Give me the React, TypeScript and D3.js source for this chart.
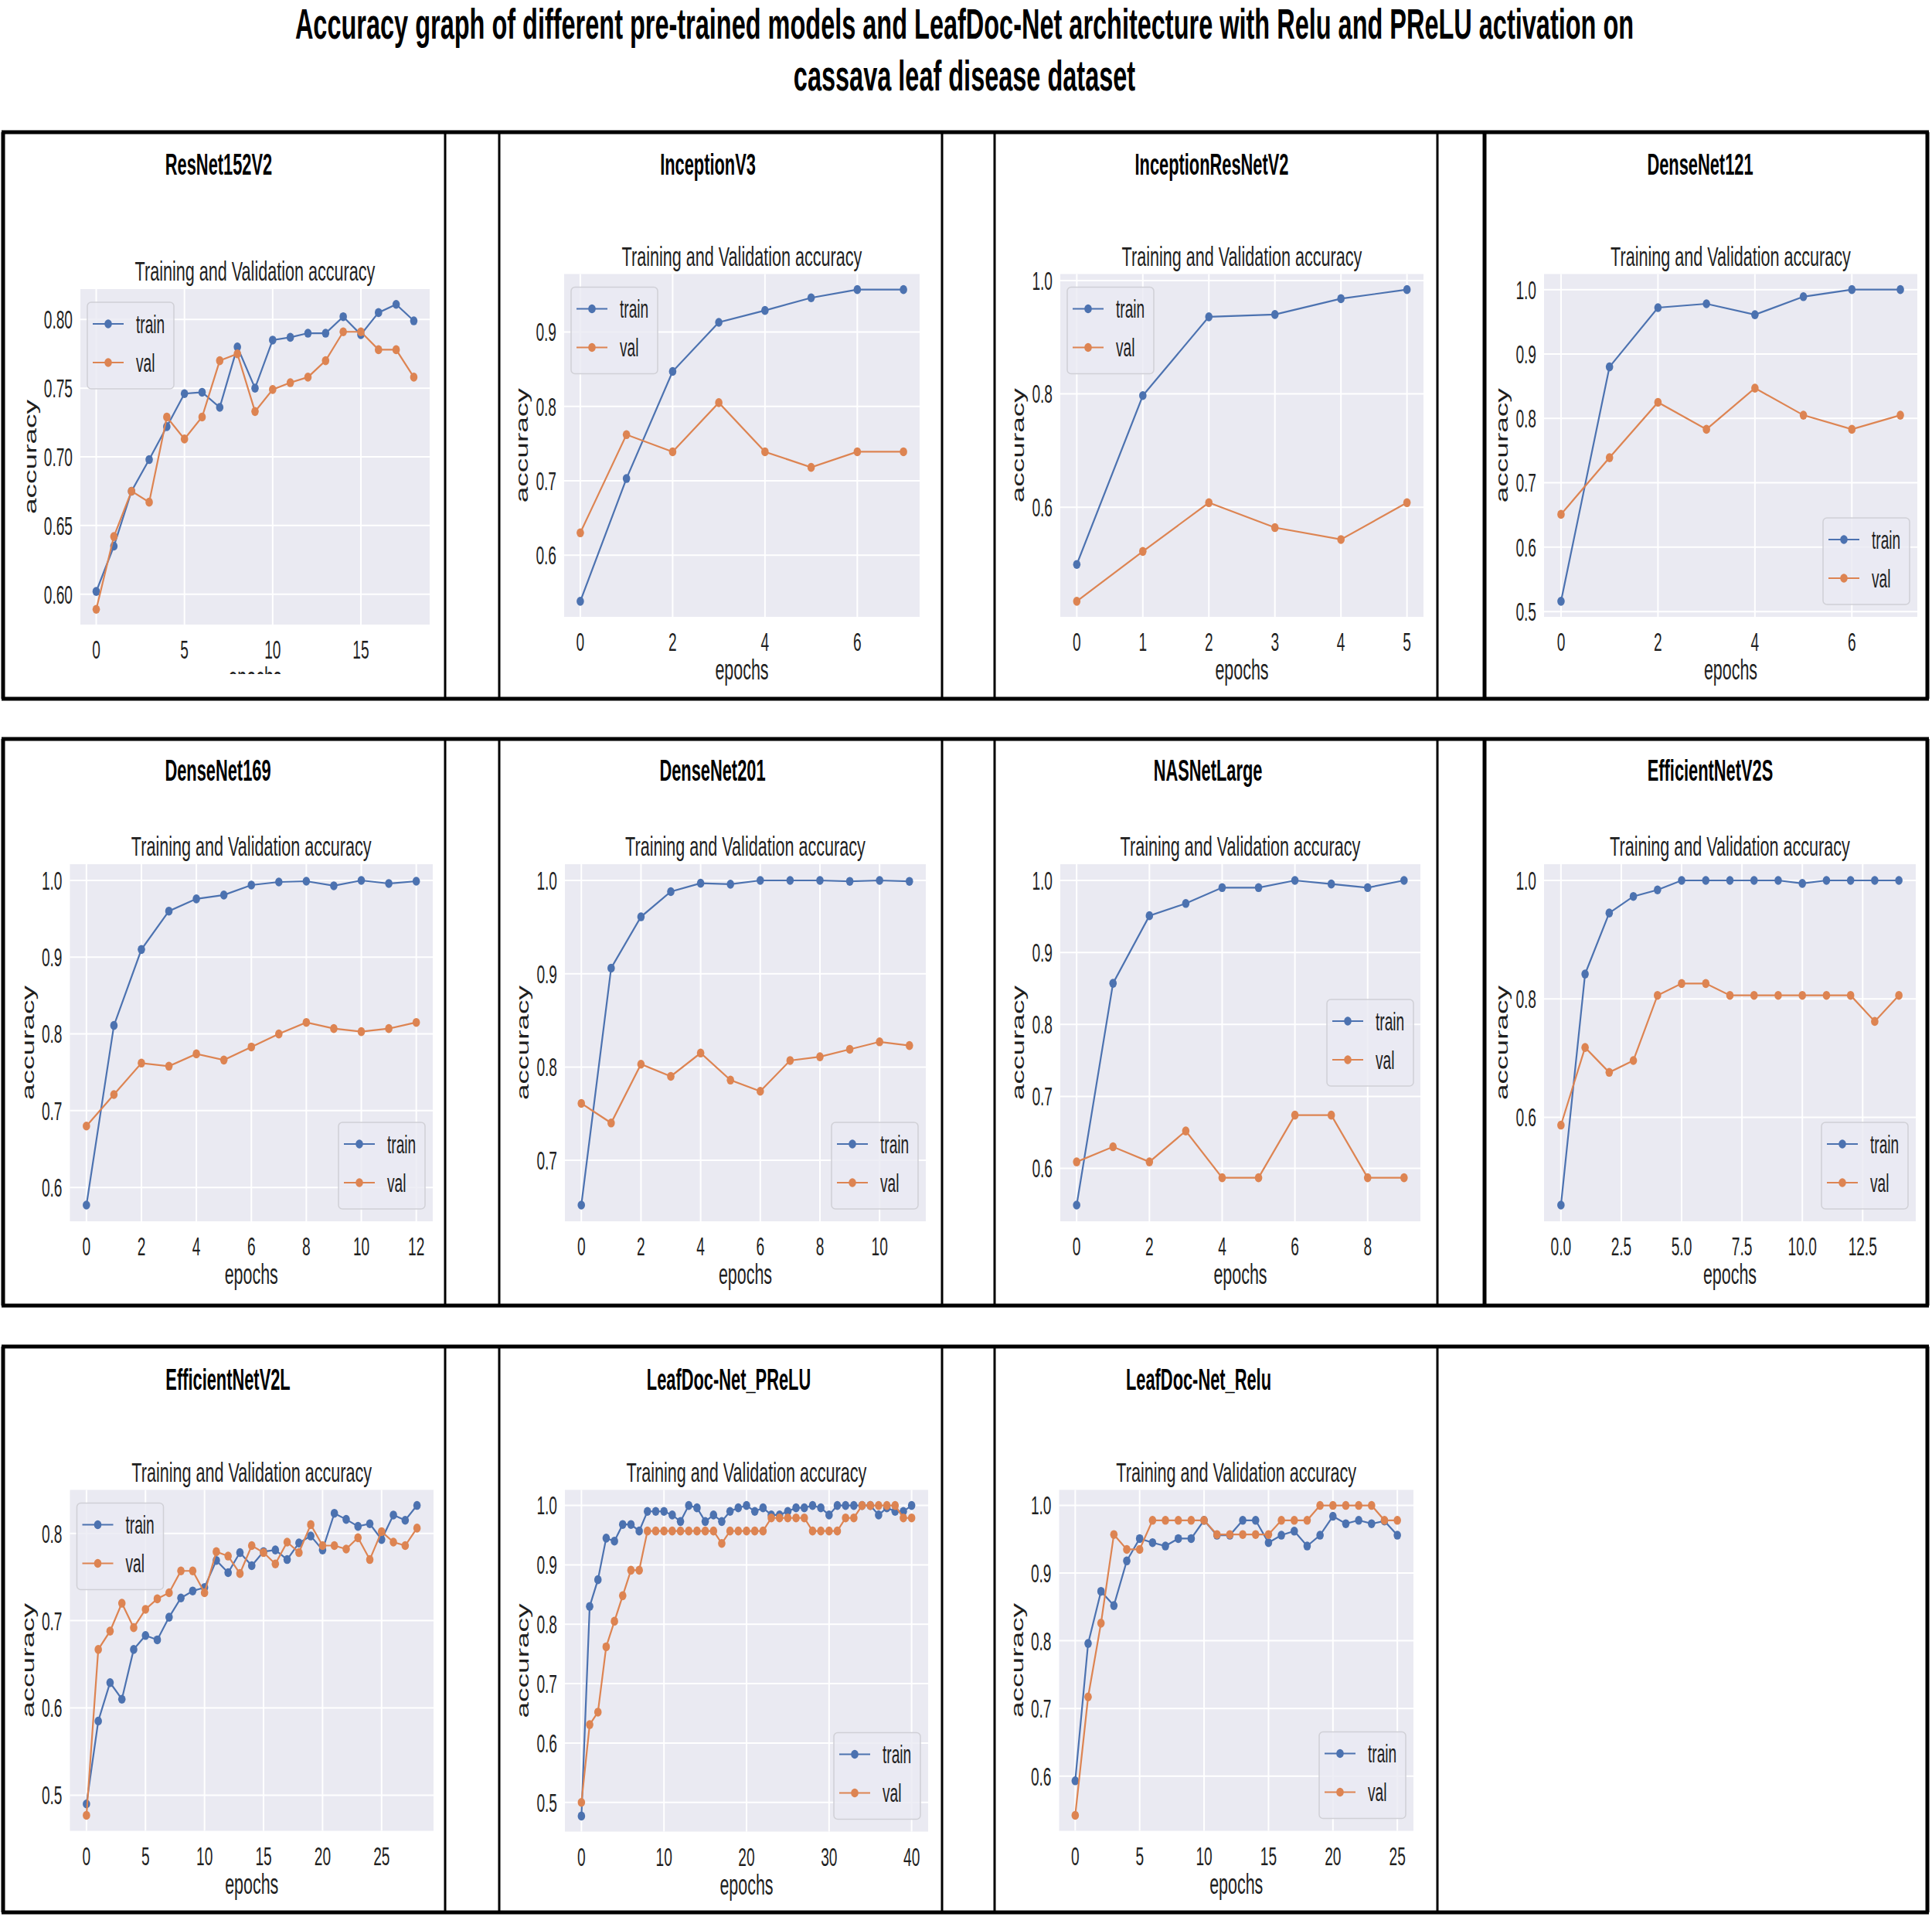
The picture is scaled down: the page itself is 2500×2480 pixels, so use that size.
import * as d3 from "d3";

const W = 2500;
const H = 2480;

const FONT = "'Liberation Sans', Arial, Helvetica, sans-serif";
const TRAIN_COLOR = "#4c72b0";
const VAL_COLOR = "#dd8452";
const PLOT_BG = "#eaeaf2";
const SQ = 0.58; // horizontal squeeze of the pasted figures
const SQ_BOLD = 0.56;

const mainTitle = [
  "Accuracy graph of different pre-trained models and LeafDoc-Net architecture with Relu and PReLU activation on",
  "cassava leaf disease dataset",
];

// ---- data ----
const resnetTrain = [0.602, 0.635, 0.675, 0.698, 0.722, 0.746, 0.747, 0.736, 0.78, 0.75, 0.785, 0.787, 0.79, 0.79, 0.802, 0.789, 0.805, 0.811, 0.799];
const resnetVal = [0.589, 0.642, 0.675, 0.667, 0.729, 0.713, 0.729, 0.77, 0.775, 0.733, 0.749, 0.754, 0.758, 0.77, 0.791, 0.791, 0.778, 0.778, 0.758];

const inceptionTrain = [0.538, 0.703, 0.847, 0.913, 0.929, 0.946, 0.957, 0.957];
const inceptionVal = [0.63, 0.762, 0.739, 0.805, 0.739, 0.718, 0.739, 0.739];

const incResTrain = [0.499, 0.797, 0.936, 0.94, 0.968, 0.984];
const incResVal = [0.434, 0.522, 0.608, 0.564, 0.543, 0.608];

const dn121Train = [0.516, 0.88, 0.972, 0.978, 0.961, 0.989, 1.0, 1.0];
const dn121Val = [0.651, 0.739, 0.825, 0.783, 0.847, 0.805, 0.783, 0.805];

const dn169Train = [0.577, 0.811, 0.91, 0.96, 0.976, 0.981, 0.994, 0.998, 0.999, 0.993, 1.0, 0.996, 0.999];
const dn169Val = [0.68, 0.721, 0.762, 0.758, 0.774, 0.766, 0.783, 0.8, 0.815, 0.807, 0.803, 0.807, 0.815];

const dn201Train = [0.652, 0.906, 0.961, 0.988, 0.997, 0.996, 1.0, 1.0, 1.0, 0.999, 1.0, 0.999];
const dn201Val = [0.761, 0.74, 0.803, 0.79, 0.815, 0.786, 0.774, 0.807, 0.811, 0.819, 0.827, 0.823];

const nasTrain = [0.549, 0.857, 0.951, 0.968, 0.99, 0.99, 1.0, 0.995, 0.99, 1.0];
const nasVal = [0.609, 0.63, 0.609, 0.652, 0.587, 0.587, 0.674, 0.674, 0.587, 0.587];

const effSTrain = [0.452, 0.842, 0.945, 0.973, 0.984, 1.0, 1.0, 1.0, 1.0, 1.0, 0.995, 1.0, 1.0, 1.0, 1.0];
const effSVal = [0.587, 0.718, 0.676, 0.696, 0.806, 0.826, 0.826, 0.806, 0.806, 0.806, 0.806, 0.806, 0.806, 0.762, 0.806];

const effLTrain = [0.49, 0.585, 0.629, 0.61, 0.667, 0.683, 0.678, 0.704, 0.726, 0.734, 0.738, 0.769, 0.755, 0.778, 0.763, 0.779, 0.781, 0.77, 0.789, 0.797, 0.781, 0.823, 0.816, 0.808, 0.811, 0.793, 0.821, 0.815, 0.832];
const effLVal = [0.477, 0.667, 0.688, 0.72, 0.692, 0.713, 0.725, 0.732, 0.757, 0.757, 0.732, 0.779, 0.774, 0.754, 0.786, 0.778, 0.765, 0.79, 0.778, 0.81, 0.786, 0.786, 0.782, 0.795, 0.77, 0.802, 0.79, 0.786, 0.806];

const preluTrain = [0.477, 0.83, 0.875, 0.945, 0.94, 0.968, 0.968, 0.957, 0.99, 0.99, 0.99, 0.984, 0.973, 1.0, 0.996, 0.973, 0.984, 0.973, 0.99, 0.996, 1.0, 0.99, 0.996, 0.984, 0.984, 0.99, 0.996, 0.996, 1.0, 0.996, 0.984, 1.0, 1.0, 1.0, 1.0, 1.0, 0.984, 0.996, 0.99, 0.99, 1.0];
const preluVal = [0.5, 0.631, 0.652, 0.762, 0.805, 0.848, 0.891, 0.891, 0.957, 0.957, 0.957, 0.957, 0.957, 0.957, 0.957, 0.957, 0.957, 0.936, 0.957, 0.957, 0.957, 0.957, 0.957, 0.979, 0.979, 0.979, 0.979, 0.979, 0.957, 0.957, 0.957, 0.957, 0.979, 0.979, 1.0, 1.0, 1.0, 1.0, 1.0, 0.979, 0.979];

const reluTrain = [0.593, 0.796, 0.873, 0.852, 0.918, 0.951, 0.945, 0.94, 0.951, 0.951, 0.978, 0.956, 0.956, 0.978, 0.978, 0.945, 0.956, 0.962, 0.94, 0.956, 0.984, 0.973, 0.978, 0.973, 0.977, 0.956];
const reluVal = [0.542, 0.717, 0.826, 0.957, 0.935, 0.935, 0.978, 0.978, 0.978, 0.978, 0.978, 0.957, 0.957, 0.957, 0.957, 0.957, 0.978, 0.978, 0.978, 1.0, 1.0, 1.0, 1.0, 1.0, 0.978, 0.978];

// ---- tick values ----
const yTicks05 = [0.6, 0.65, 0.7, 0.75, 0.8];
const yTicks01a = [0.6, 0.7, 0.8, 0.9];
const yTicks02 = [0.6, 0.8, 1.0];
const yTicks01b = [0.5, 0.6, 0.7, 0.8, 0.9, 1.0];
const yTicks01c = [0.6, 0.7, 0.8, 0.9, 1.0];
const yTicks01d = [0.7, 0.8, 0.9, 1.0];
const yTicks01e = [0.5, 0.6, 0.7, 0.8];

const xTicksBy5 = [0, 5, 10, 15];
const xTicks0to6 = [0, 2, 4, 6];
const xTicks0to5 = [0, 1, 2, 3, 4, 5];
const xTicks0to12 = [0, 2, 4, 6, 8, 10, 12];
const xTicks0to10 = [0, 2, 4, 6, 8, 10];
const xTicks0to8 = [0, 2, 4, 6, 8];
const xTicksHalf = [0, 2.5, 5, 7.5, 10, 12.5];
const xTicks0to25 = [0, 5, 10, 15, 20, 25];
const xTicks0to40 = [0, 10, 20, 30, 40];

type Legend = "ul" | "lr" | "cr";
interface Panel {
  name: string;
  train: number[];
  val: number[];
  yTicks: number[];
  xTicks: number[];
  yFmt: string;
  xFmt: string;
  title: [number, number];
  plot: [number, number, number, number]; // left, top, right, bottom
  legend: Legend;
  clipY?: number;
}

const panels: Panel[] = [
  { name: "ResNet152V2", train: resnetTrain, val: resnetVal, yTicks: yTicks05, xTicks: xTicksBy5, yFmt: ".2f", xFmt: "d", title: [283, 226], plot: [104, 374, 556, 808], legend: "ul", clipY: 872 },
  { name: "InceptionV3", train: inceptionTrain, val: inceptionVal, yTicks: yTicks01a, xTicks: xTicks0to6, yFmt: ".1f", xFmt: "d", title: [916, 226], plot: [730, 354.5, 1190, 798], legend: "ul" },
  { name: "InceptionResNetV2", train: incResTrain, val: incResVal, yTicks: yTicks02, xTicks: xTicks0to5, yFmt: ".1f", xFmt: "d", title: [1568, 226], plot: [1372, 354.5, 1842, 798], legend: "ul" },
  { name: "DenseNet121", train: dn121Train, val: dn121Val, yTicks: yTicks01b, xTicks: xTicks0to6, yFmt: ".1f", xFmt: "d", title: [2200, 226], plot: [1998, 354.5, 2481, 798], legend: "lr" },
  { name: "DenseNet169", train: dn169Train, val: dn169Val, yTicks: yTicks01c, xTicks: xTicks0to12, yFmt: ".1f", xFmt: "d", title: [282, 1010], plot: [90.5, 1118, 560, 1580], legend: "lr" },
  { name: "DenseNet201", train: dn201Train, val: dn201Val, yTicks: yTicks01d, xTicks: xTicks0to10, yFmt: ".1f", xFmt: "d", title: [922, 1010], plot: [731, 1118, 1198, 1580], legend: "lr" },
  { name: "NASNetLarge", train: nasTrain, val: nasVal, yTicks: yTicks01c, xTicks: xTicks0to8, yFmt: ".1f", xFmt: "d", title: [1563, 1010], plot: [1372, 1118, 1838, 1580], legend: "cr" },
  { name: "EfficientNetV2S", train: effSTrain, val: effSVal, yTicks: yTicks02, xTicks: xTicksHalf, yFmt: ".1f", xFmt: ".1f", title: [2213, 1010], plot: [1998, 1118, 2479, 1580], legend: "lr" },
  { name: "EfficientNetV2L", train: effLTrain, val: effLVal, yTicks: yTicks01e, xTicks: xTicks0to25, yFmt: ".1f", xFmt: "d", title: [295, 1798], plot: [90.5, 1927.5, 561, 2368.5], legend: "ul" },
  { name: "LeafDoc-Net_PReLU", train: preluTrain, val: preluVal, yTicks: yTicks01b, xTicks: xTicks0to40, yFmt: ".1f", xFmt: "d", title: [943, 1798], plot: [731, 1927.5, 1201, 2369.5], legend: "lr" },
  { name: "LeafDoc-Net_Relu", train: reluTrain, val: reluVal, yTicks: yTicks01c, xTicks: xTicks0to25, yFmt: ".1f", xFmt: "d", title: [1551, 1798], plot: [1370.5, 1927.5, 1829, 2368.5], legend: "lr" },
];

// frame of the table the figures were pasted into
const rowTops = [171, 956, 1742];
const rowBottoms = [904, 1689, 2474];
const colLines = [4, 576, 646, 1219, 1287, 1860, 1921, 2494];

const TICK_SIZE = 33;
const LABEL_SIZE = 37;
const SUB_SIZE = 36;
const LEG_W = 112;
const LEG_H = 112;

function textWidth(s: string, size: number) {
  let w = 0;
  for (const ch of s) w += ch === "." ? 0.278 : 0.556;
  return w * size * SQ;
}

function SText({ x, y, size, children, anchor = "middle", weight = "normal", sx = SQ, dy, fill = "#1f1f1f" }: any) {
  return (
    <text
      transform={`translate(${x},${y}) scale(${sx},1)`}
      fontSize={size}
      fontWeight={weight}
      textAnchor={anchor}
      fontFamily={FONT}
      fill={fill}
      dy={dy}
    >
      {children}
    </text>
  );
}

function Chart({ p, idx }: { p: Panel; idx: number }) {
  const [left, top, right, bottom] = p.plot;
  const n = p.train.length - 1;
  const x = d3.scaleLinear().domain([-0.05 * n, 1.05 * n]).range([left, right]);
  const [lo, hi] = d3.extent(p.train.concat(p.val)) as [number, number];
  const pad = (hi - lo) * 0.05;
  const y = d3.scaleLinear().domain([lo - pad, hi + pad]).range([bottom, top]);
  const line = d3
    .line<number>()
    .x((_, i) => x(i))
    .y((d) => y(d));
  const fy = d3.format(p.yFmt);
  const fx = d3.format(p.xFmt);
  const tickW = d3.max(p.yTicks, (t) => textWidth(fy(t), TICK_SIZE)) as number;
  const ylabX = left - 10 - tickW - 10;
  const cx = (left + right) / 2;
  const cy = (top + bottom) / 2;

  let lx = left + 9;
  let ly = top + 17;
  if (p.legend === "lr") {
    lx = right - 10 - LEG_W;
    ly = bottom - 16 - LEG_H;
  } else if (p.legend === "cr") {
    lx = right - 9 - LEG_W;
    ly = cy - LEG_H / 2;
  }

  const series = [
    { key: "train", data: p.train, color: TRAIN_COLOR },
    { key: "val", data: p.val, color: VAL_COLOR },
  ];

  return (
    <g>
      {p.clipY && (
        <clipPath id={`clip${idx}`}>
          <rect x={0} y={0} width={W} height={p.clipY} />
        </clipPath>
      )}
      <SText x={p.title[0]} y={p.title[1]} size={39} weight="bold" sx={SQ_BOLD} fill="#000">
        {p.name}
      </SText>
      <SText x={cx} y={top - 11} size={SUB_SIZE} sx={0.6}>
        Training and Validation accuracy
      </SText>
      <rect x={left} y={top} width={right - left} height={bottom - top} fill={PLOT_BG} />
      {p.yTicks.map((t) => (
        <line key={`gy${t}`} x1={left} x2={right} y1={y(t)} y2={y(t)} stroke="#fff" strokeWidth={2} />
      ))}
      {p.xTicks.map((t) => (
        <line key={`gx${t}`} x1={x(t)} x2={x(t)} y1={top} y2={bottom} stroke="#fff" strokeWidth={2} />
      ))}
      {p.yTicks.map((t) => (
        <SText key={`ty${t}`} x={left - 10} y={y(t)} size={TICK_SIZE} anchor="end" dy="0.36em">
          {fy(t)}
        </SText>
      ))}
      {p.xTicks.map((t) => (
        <SText key={`tx${t}`} x={x(t)} y={bottom + 44} size={TICK_SIZE}>
          {fx(t)}
        </SText>
      ))}
      <g clipPath={p.clipY ? `url(#clip${idx})` : undefined}>
        <SText x={cx} y={bottom + 81} size={LABEL_SIZE}>
          epochs
        </SText>
      </g>
      <text
        transform={`translate(${ylabX},${cy}) rotate(-90) scale(1,${SQ + 0.04})`}
        fontSize={LABEL_SIZE}
        textAnchor="middle"
        fontFamily={FONT}
        fill="#1f1f1f"
      >
        accuracy
      </text>
      {series.map((s) => (
        <g key={s.key}>
          <path d={line(s.data) as string} fill="none" stroke={s.color} strokeWidth={2.2} />
          {s.data.map((d, i) => (
            <ellipse key={i} cx={x(i)} cy={y(d)} rx={4.8} ry={5.8} fill={s.color} />
          ))}
        </g>
      ))}
      <rect
        x={lx}
        y={ly}
        width={LEG_W}
        height={LEG_H}
        rx={5}
        fill={PLOT_BG}
        fillOpacity={0.8}
        stroke="#d0d0d6"
        strokeWidth={1.5}
      />
      {series.map((s, i) => {
        const ey = ly + 28 + i * 50;
        return (
          <g key={`leg${s.key}`}>
            <line x1={lx + 7} x2={lx + 47} y1={ey} y2={ey} stroke={s.color} strokeWidth={2.2} />
            <ellipse cx={lx + 27} cy={ey} rx={4.8} ry={5.8} fill={s.color} />
            <SText x={lx + 63} y={ey} size={TICK_SIZE} anchor="start" dy="0.36em">
              {s.key}
            </SText>
          </g>
        );
      })}
    </g>
  );
}

export default function App() {
  return (
    <svg
      width={W}
      height={H}
      viewBox={`0 0 ${W} ${H}`}
      style={{ position: "absolute", left: 0, top: 0, display: "block", background: "#fff" }}
    >
      <rect width={W} height={H} fill="#fff" />
      <SText x={1248} y={50} size={56} weight="bold" sx={0.58} fill="#000">
        {mainTitle[0]}
      </SText>
      <SText x={1248} y={117} size={56} weight="bold" sx={0.58} fill="#000">
        {mainTitle[1]}
      </SText>

      {panels.map((p, i) => (
        <Chart key={p.name} p={p} idx={i} />
      ))}

      {rowTops.map((t, r) => (
        <g key={`row${r}`}>
          <line x1={2} x2={2496} y1={t} y2={t} stroke="#000" strokeWidth={5} />
          <line x1={2} x2={2496} y1={rowBottoms[r]} y2={rowBottoms[r]} stroke="#000" strokeWidth={5} />
          {colLines
            .filter((c) => !(r === 2 && c === 1921))
            .map((c) => (
              <line
                key={c}
                x1={c}
                x2={c}
                y1={t}
                y2={rowBottoms[r]}
                stroke="#000"
                strokeWidth={c === 4 || c === 2494 || c === 1921 ? 5 : 3}
              />
            ))}
        </g>
      ))}
    </svg>
  );
}
